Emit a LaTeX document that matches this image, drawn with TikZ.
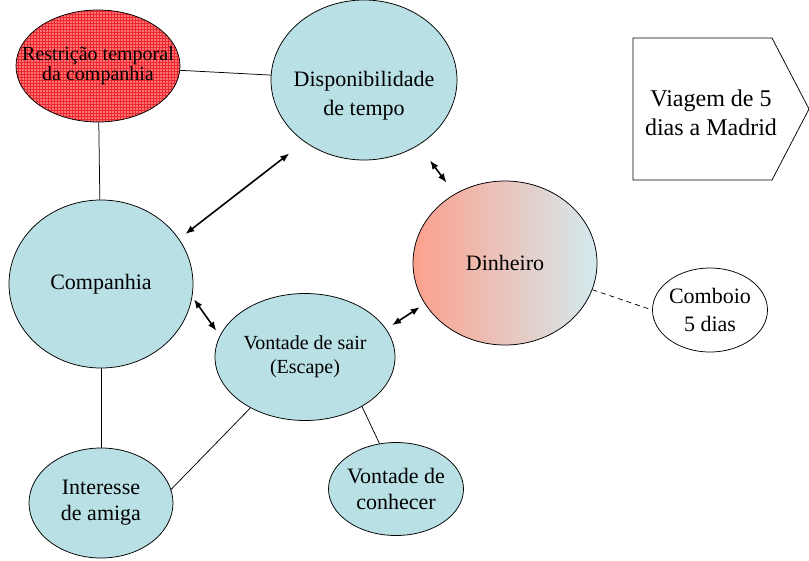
\documentclass[tikz,border=0pt]{standalone}
\usepackage{fontspec}
\setmainfont{Liberation Serif}
\usetikzlibrary{shapes.geometric,patterns,arrows.meta}

\definecolor{bolha}{RGB}{185,224,228}
\definecolor{salmao}{RGB}{252,160,140}
\definecolor{claro}{RGB}{212,234,238}
\definecolor{vermelho}{RGB}{255,115,115}
\definecolor{grade}{RGB}{235,40,50}

\begin{document}
\begin{tikzpicture}[x=1pt, y=-1pt, line width=0.75pt,
    bub/.style={draw, ellipse, fill=bolha, inner xsep=-6pt, inner ysep=0pt, align=center,
      font=\fontsize{22}{26}\selectfont},
    dbl/.style={{Latex[length=9pt,width=7pt]}-{Latex[length=9pt,width=7pt]}, line width=1.6pt}]
      \useasboundingbox (0,0) rectangle (809,560);

      % Draw the red vertex
      \node[draw, ellipse, inner xsep=-19pt, inner ysep=0pt, align=center,
        minimum width=164, minimum height=112,
        preaction={fill=vermelho}, pattern=grid, pattern color=grade,
        font=\fontsize{20}{20}\selectfont] (restricao) at (98,66)
        {Restrição temporal\\da companhia};

      % Draw the blue vertices
      \node[bub, minimum width=186, minimum height=160,
        label={[align=center, font=\fontsize{22}{29}\selectfont, yshift=-16pt]center:Disponibilidade\\de tempo}]
        (disp) at (364,80) {};
      \node[bub, minimum width=184, minimum height=168] (companhia) at (101,284) {Companhia};
      \node[bub, minimum width=180, minimum height=127,
        font=\fontsize{20}{24}\selectfont] (sair) at (305,357) {Vontade de sair\\(Escape)};
      \node[bub, minimum width=144, minimum height=110] (interesse) at (101,503) {Interesse\\de amiga};
      \node[bub, minimum width=135, minimum height=93] (conhecer) at (396,489) {Vontade de\\conhecer};

      % Draw the money vertex and the train
      \node[bub, left color=salmao, right color=claro, minimum width=184, minimum height=164]
        (dinheiro) at (505,263) {Dinheiro};
      \node[bub, fill=white, minimum width=115, minimum height=84,
        font=\fontsize{22}{28}\selectfont] (comboio) at (710,310) {Comboio\\5 dias};

      % Draw the trip
      \draw (633,38) -- (772,38) -- (809,109) -- (772,180) -- (633,180) -- cycle;
      \node[align=center, font=\fontsize{24}{29}\selectfont] (viagem) at (711,113)
        {Viagem de 5\\dias a Madrid};

      % Draw plain edges
      \foreach \a/\b in {restricao/disp, restricao/companhia, companhia/interesse,
                         sair.223/interesse.11, sair.-41/conhecer.110}
        \draw (\a) -- (\b);
      \draw[dash pattern=on 5pt off 4pt] (dinheiro.-17) -- (comboio.west);

      % Draw arrows
      \draw[dbl, shorten <=19pt, shorten >=8pt] (disp.226) -- (companhia.30);
      \draw[dbl, shorten <=19pt, shorten >=14pt] (disp.310) -- (dinheiro.126);
      \draw[dbl, shorten <=3pt, shorten >=6pt] (companhia.-8) -- (sair.166);
      \draw[dbl, shorten <=7pt, shorten >=6pt] (sair.19) -- (dinheiro.207);
    \end{tikzpicture}
\end{document}
